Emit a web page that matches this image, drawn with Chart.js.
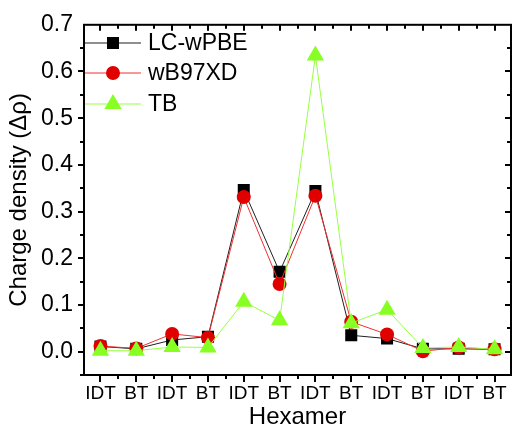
<!DOCTYPE html>
<html>
<head>
<meta charset="utf-8">
<script src="https://cdn.jsdelivr.net/npm/chart.js@4.4.1/dist/chart.umd.min.js"></script>
<style>
  html, body { margin: 0; padding: 0; background: #fff; }
  #wrap { width: 521px; height: 426px; }
</style>
</head>
<body>
<div id="wrap"><canvas id="chart" width="521" height="426"></canvas></div>
<script>
// values
var categories = ["IDT", "BT", "IDT", "BT", "IDT", "BT", "IDT", "BT", "IDT", "BT", "IDT", "BT"];
var lcWpbe = [0.011, 0.006, 0.025, 0.032, 0.346, 0.171, 0.344, 0.035, 0.028, 0.006, 0.006, 0.005];
var wb97xd = [0.012, 0.007, 0.038, 0.030, 0.331, 0.145, 0.334, 0.064, 0.037, 0.001, 0.009, 0.005];
var tb = [0.002, 0.002, 0.010, 0.009, 0.107, 0.067, 0.634, 0.061, 0.090, 0.008, 0.010, 0.005];
var yTicks = [0.0, 0.1, 0.2, 0.3, 0.4, 0.5, 0.6, 0.7];

var FONT = "'Liberation Sans', Arial, sans-serif";

function toPoints(arr) {
  return arr.map(function (v, i) { return { x: i + 1, y: v }; });
}

// frame + Origin style ticks (out on left/bottom, in on top/right)
var framePlugin = {
  id: "originFrame",
  afterDraw: function (chart) {
    var ctx = chart.ctx;
    var a = chart.chartArea;
    var xs = chart.scales.x, ys = chart.scales.y;
    ctx.save();
    ctx.strokeStyle = "#000";
    ctx.lineWidth = 2;
    ctx.strokeRect(a.left, a.top, a.right - a.left, a.bottom - a.top);
    ctx.beginPath();
    var i, p, len;
    for (i = 1; i <= categories.length; i++) {
      p = Math.round(xs.getPixelForValue(i));
      ctx.moveTo(p, a.bottom); ctx.lineTo(p, a.bottom + 7);
      ctx.moveTo(p, a.top); ctx.lineTo(p, a.top + 6);
    }
    for (i = 1.5; i < categories.length; i++) {
      p = Math.round(xs.getPixelForValue(i));
      ctx.moveTo(p, a.bottom); ctx.lineTo(p, a.bottom + 4);
      ctx.moveTo(p, a.top); ctx.lineTo(p, a.top + 4);
    }
    for (i = 0; i < 15; i++) {
      var v = -0.05 + i * 0.05;
      if (v > 0.701) break;
      p = Math.round(ys.getPixelForValue(v));
      len = i % 2 === 1 ? 6 : 4;
      ctx.moveTo(a.left, p); ctx.lineTo(a.left - len, p);
      ctx.moveTo(a.right, p); ctx.lineTo(a.right - len, p);
    }
    ctx.stroke();
    ctx.restore();
  }
};

function drawMarker(ctx, style, r, x, y, color) {
  ctx.fillStyle = color;
  ctx.beginPath();
  if (style === "rect") {
    var s = Math.SQRT1_2 * r;
    ctx.rect(x - s, y - s, 2 * s, 2 * s);
  } else if (style === "circle") {
    ctx.arc(x, y, r, 0, Math.PI * 2);
  } else {
    var w = r * Math.sin(Math.PI / 3);
    ctx.moveTo(x, y - r);
    ctx.lineTo(x + w, y + r / 2);
    ctx.lineTo(x - w, y + r / 2);
    ctx.closePath();
  }
  ctx.fill();
}

var legendPlugin = {
  id: "lineLegend",
  afterDraw: function (chart) {
    var ctx = chart.ctx;
    var a = chart.chartArea;
    var rows = [43, 73, 104];
    ctx.save();
    chart.data.datasets.forEach(function (ds, i) {
      var y = rows[i];
      ctx.strokeStyle = ds.borderColor;
      ctx.lineWidth = 1;
      ctx.beginPath();
      ctx.moveTo(a.left + 1, y);
      ctx.lineTo(a.left + 57, y);
      ctx.stroke();
      drawMarker(ctx, ds.pointStyle, ds.pointRadius, a.left + 29, y, ds.pointBackgroundColor);
      ctx.fillStyle = "#000";
      ctx.font = "23px " + FONT;
      ctx.textBaseline = "middle";
      ctx.textAlign = "left";
      ctx.fillText(ds.label, a.left + 64, y + 1);
    });
    ctx.restore();
  }
};

new Chart(document.getElementById("chart"), {
  type: "line",
  data: {
    datasets: [
      {
        label: "LC-wPBE",
        data: toPoints(lcWpbe),
        borderColor: "#202020",
        borderWidth: 1,
        pointStyle: "rect",
        pointRadius: 8.5,
        pointBackgroundColor: "#000000",
        pointBorderColor: "#000000",
        pointBorderWidth: 0,
        order: 3
      },
      {
        label: "wB97XD",
        data: toPoints(wb97xd),
        borderColor: "#f03030",
        borderWidth: 1,
        pointStyle: "circle",
        pointRadius: 7,
        pointBackgroundColor: "#e00000",
        pointBorderColor: "#e00000",
        pointBorderWidth: 0,
        order: 2
      },
      {
        label: "TB",
        data: toPoints(tb),
        borderColor: "#99ff44",
        borderWidth: 1,
        pointStyle: "triangle",
        pointRadius: 10,
        pointBackgroundColor: "#88ff22",
        pointBorderColor: "#88ff22",
        pointBorderWidth: 0,
        order: 1
      }
    ]
  },
  options: {
    responsive: false,
    animation: false,
    layout: { padding: { top: 22, right: 1, bottom: 0, left: 0 } },
    plugins: {
      legend: { display: false },
      tooltip: { enabled: false }
    },
    elements: { line: { tension: 0 } },
    scales: {
      x: {
        type: "linear",
        min: 0.54,
        max: 12.46,
        grid: { display: false, drawTicks: false },
        border: { display: false },
        afterBuildTicks: function (s) {
          s.ticks = categories.map(function (c, i) { return { value: i + 1 }; });
        },
        afterFit: function (s) { s.height = 51; },
        ticks: {
          autoSkip: false,
          maxRotation: 0,
          padding: 7,
          color: "#000",
          font: { family: FONT, size: 19 },
          callback: function (v) { return categories[v - 1]; }
        },
        title: {
          display: true,
          text: "Hexamer",
          color: "#000",
          font: { family: FONT, size: 24 },
          padding: { top: 0, bottom: -6 }
        }
      },
      y: {
        min: -0.05,
        max: 0.7,
        grid: { display: false, drawTicks: false },
        border: { display: false },
        afterBuildTicks: function (s) {
          s.ticks = yTicks.map(function (v) { return { value: v }; });
        },
        afterFit: function (s) { s.width = 84; },
        ticks: {
          padding: 11,
          color: "#000",
          font: { family: FONT, size: 23 },
          callback: function (v) { return Number(v).toFixed(1); }
        },
        title: {
          display: true,
          text: "Charge density (Δρ)",
          color: "#000",
          font: { family: FONT, size: 24 },
          padding: { top: 5, bottom: 0 }
        }
      }
    }
  },
  plugins: [framePlugin, legendPlugin]
});
</script>
</body>
</html>
